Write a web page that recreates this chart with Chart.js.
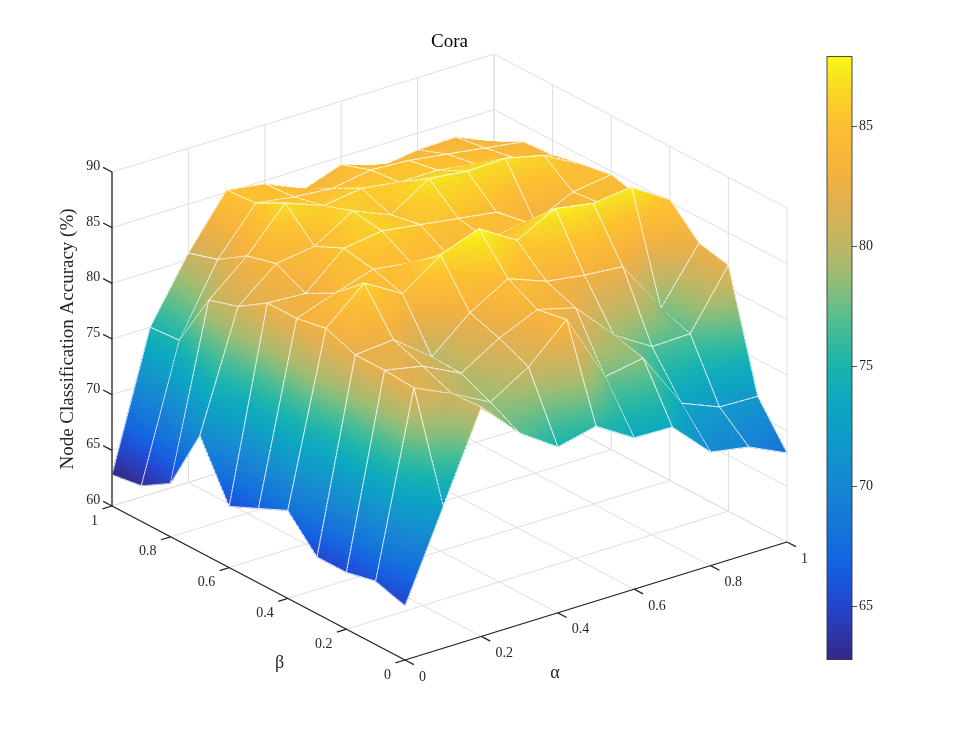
<!DOCTYPE html>
<html lang="en">
<head>
  <meta charset="UTF-8">
  <title>Cora</title>
  <script src="https://cdn.jsdelivr.net/npm/chart.js@4.4.1/dist/chart.umd.min.js"></script>
  <style>
    body { margin: 0; background: #fff; }
    #wrap { position: relative; width: 962px; height: 742px; }
    #surf { position: absolute; left: 0; top: 0; }
    #cbar { position: absolute; left: 820px; top: 46px; }
  </style>
</head>
<body>
<div id="wrap">
  <canvas id="surf" width="962" height="742"></canvas>
  <canvas id="cbar" width="73" height="624"></canvas>
</div>

<script>
  const alphaVals = [0, 0.1, 0.2, 0.3, 0.4, 0.5, 0.6, 0.7, 0.8, 0.9, 1];
  const betaVals = [0, 0.1, 0.2, 0.3, 0.4, 0.5, 0.6, 0.7, 0.8, 0.9, 1];
  // one row per beta value, one column per alpha value
  const accuracy = [
    [64.9, 72.8, 80.6, 77.2, 74.9, 75.7, 73.6, 73.5, 70.2, 69.6, 68.0],
    [65.7, 82.0, 80.4, 78.6, 80.7, 83.9, 77.7, 78.3, 73.2, 71.8, 71.7],
    [65.1, 82.2, 81.5, 79.8, 81.9, 83.4, 82.5, 79.0, 76.9, 77.0, 82.1],
    [65.1, 82.2, 82.5, 79.9, 82.8, 84.8, 83.5, 83.0, 82.7, 77.9, 82.7],
    [67.9, 83.2, 86.2, 84.2, 86.6, 87.9, 85.8, 87.6, 87.0, 87.4, 85.2],
    [66.7, 82.7, 83.9, 85.0, 84.5, 84.0, 84.5, 85.0, 84.0, 84.5, 84.0],
    [65.5, 82.7, 82.5, 85.5, 86.0, 85.5, 85.0, 84.5, 82.6, 84.2, 84.7],
    [70.5, 81.0, 83.8, 84.3, 86.4, 85.0, 87.2, 86.8, 86.9, 86.1, 84.2],
    [64.8, 80.2, 83.1, 86.8, 85.5, 86.0, 85.5, 85.5, 85.0, 84.5, 83.7],
    [63.2, 75.2, 81.4, 85.4, 84.9, 84.6, 85.2, 85.0, 84.5, 84.0, 83.5],
    [62.8, 75.0, 80.6, 85.2, 84.7, 83.1, 84.3, 83.0, 83.5, 83.6, 82.0]
  ];
  const alphaTicks = [0, 0.2, 0.4, 0.6, 0.8, 1];
  const betaTicks = [0, 0.2, 0.4, 0.6, 0.8, 1];
  const zTicks = [60, 65, 70, 75, 80, 85, 90];
  const cbarTicks = [65, 70, 75, 80, 85];

  // screen vectors of the axes box (pixels per unit of alpha, beta, full z range)
  const box = { ox: 405, oy: 660, ax: 382, ay: -118, bx: -293, by: -154, zh: -334 };
  const zLo = zTicks[0], zHi = zTicks[zTicks.length - 1];
  const flat = accuracy.flat();
  const cLo = Math.min(...flat), cHi = Math.max(...flat);

  const serif = '"Liberation Serif", "Times New Roman", serif';
  const ink = '#262626';

  // parula-like colour map, position 0..1
  const cmapStops = [
    [0.00, [52, 40, 135]], [0.05, [45, 55, 175]], [0.09, [35, 70, 205]],
    [0.15, [20, 95, 225]], [0.21, [20, 115, 218]], [0.29, [22, 135, 210]],
    [0.37, [15, 155, 200]], [0.43, [12, 168, 192]], [0.49, [28, 180, 172]],
    [0.55, [70, 188, 150]], [0.61, [130, 190, 125]], [0.65, [165, 187, 110]],
    [0.69, [192, 182, 100]], [0.75, [222, 176, 82]], [0.81, [245, 178, 62]],
    [0.89, [252, 192, 48]], [0.95, [248, 218, 35]], [1.00, [248, 248, 22]]
  ];
  function colorAt(t) {
    t = Math.max(0, Math.min(1, t));
    for (let k = 1; k < cmapStops.length; k++) {
      const [t1, c1] = cmapStops[k];
      if (t <= t1) {
        const [t0, c0] = cmapStops[k - 1];
        const f = (t - t0) / (t1 - t0);
        return 'rgb(' + c0.map((c, n) => Math.round(c + f * (c1[n] - c))).join(',') + ')';
      }
    }
    return 'rgb(248,248,22)';
  }
  const colorOf = z => colorAt((z - cLo) / (cHi - cLo));

  function project(chart, a, b, z) {
    const t = (z - zLo) / (zHi - zLo);
    return [
      chart.scales.x.getPixelForValue(box.ox + a * box.ax + b * box.bx),
      chart.scales.y.getPixelForValue(box.oy + a * box.ay + b * box.by + t * box.zh)
    ];
  }

  // split every grid face into small patches so the colour can follow z;
  // steep faces get more slices along the steep direction
  function buildPatches() {
    const out = [];
    const slices = d => Math.min(60, Math.max(3, Math.ceil(d / 0.3)));
    for (let i = 0; i < betaVals.length - 1; i++) {
      for (let j = 0; j < alphaVals.length - 1; j++) {
        const z00 = accuracy[i][j], z01 = accuracy[i][j + 1];
        const z10 = accuracy[i + 1][j], z11 = accuracy[i + 1][j + 1];
        const a0 = alphaVals[j], a1 = alphaVals[j + 1], b0 = betaVals[i], b1 = betaVals[i + 1];
        const nu = slices(Math.max(Math.abs(z01 - z00), Math.abs(z11 - z10)));
        const nv = slices(Math.max(Math.abs(z10 - z00), Math.abs(z11 - z01)));
        const at = (s, t) => ({
          a: a0 + s * (a1 - a0),
          b: b0 + t * (b1 - b0),
          z: z00 * (1 - s) * (1 - t) + z01 * s * (1 - t) + z10 * (1 - s) * t + z11 * s * t
        });
        for (let u = 0; u < nu; u++) {
          for (let v = 0; v < nv; v++) {
            const c = at((u + 0.5) / nu, (v + 0.5) / nv);
            out.push({
              pts: [at(u / nu, v / nv), at((u + 1) / nu, v / nv), at((u + 1) / nu, (v + 1) / nv), at(u / nu, (v + 1) / nv)],
              z: c.z,
              depth: -(box.ay * c.a + box.by * c.b),
              edges: [v === 0, u === nu - 1, v === nv - 1, u === 0]
            });
          }
        }
      }
    }
    return out.sort((p, q) => q.depth - p.depth);
  }
  const patches = buildPatches();

  function line(ctx, p, q) {
    ctx.beginPath();
    ctx.moveTo(p[0], p[1]);
    ctx.lineTo(q[0], q[1]);
    ctx.stroke();
  }

  const surfacePlugin = {
    id: 'surface3d',
    beforeDatasetsDraw(chart) {
      const ctx = chart.ctx;
      const P = (a, b, z) => project(chart, a, b, z);
      ctx.save();

      // back walls and floor grid
      ctx.strokeStyle = '#dedede';
      ctx.lineWidth = 1;
      alphaTicks.forEach(a => {
        line(ctx, P(a, 0, zLo), P(a, 1, zLo));
        line(ctx, P(a, 1, zLo), P(a, 1, zHi));
      });
      betaTicks.forEach(b => {
        line(ctx, P(0, b, zLo), P(1, b, zLo));
        line(ctx, P(1, b, zLo), P(1, b, zHi));
      });
      zTicks.forEach(z => {
        line(ctx, P(0, 1, z), P(1, 1, z));
        line(ctx, P(1, 0, z), P(1, 1, z));
      });

      // surface, far patches first
      ctx.lineJoin = 'round';
      patches.forEach(pt => {
        const q = pt.pts.map(p => P(p.a, p.b, p.z));
        const col = colorOf(pt.z);
        ctx.beginPath();
        ctx.moveTo(q[0][0], q[0][1]);
        for (let k = 1; k < 4; k++) ctx.lineTo(q[k][0], q[k][1]);
        ctx.closePath();
        ctx.fillStyle = col;
        ctx.fill();
        ctx.strokeStyle = col;
        ctx.lineWidth = 0.8;
        ctx.stroke();
        ctx.strokeStyle = 'rgba(255,255,255,0.95)';
        ctx.lineWidth = 0.9;
        pt.edges.forEach((on, k) => { if (on) line(ctx, q[k], q[(k + 1) % 4]); });
      });

      // axes, ticks and tick labels
      ctx.strokeStyle = ink;
      ctx.fillStyle = ink;
      ctx.lineWidth = 1.3;
      line(ctx, P(0, 1, zLo), P(0, 1, zHi));
      line(ctx, P(0, 0, zLo), P(0, 1, zLo));
      line(ctx, P(0, 0, zLo), P(1, 0, zLo));
      const unit = (dx, dy) => { const l = Math.hypot(dx, dy); return [dx / l, dy / l]; };
      const dB = unit(box.bx, box.by), dA = unit(-box.ax, -box.ay), dBn = unit(-box.bx, -box.by);
      const tick = 10;
      ctx.font = '14px ' + serif;

      ctx.textAlign = 'right';
      ctx.textBaseline = 'middle';
      zTicks.forEach(z => {
        const p = P(0, 1, z), e = [p[0] + tick * dB[0], p[1] + tick * dB[1]];
        line(ctx, p, e);
        ctx.fillText(String(z), e[0] - 3, e[1] - 1);
      });
      betaTicks.forEach(b => {
        const p = P(0, b, zLo), e = [p[0] + tick * dA[0], p[1] + tick * dA[1]];
        line(ctx, p, e);
        ctx.fillText(String(b), p[0] - 14, p[1] + 15);
      });
      ctx.textAlign = 'left';
      alphaTicks.forEach(a => {
        const p = P(a, 0, zLo), e = [p[0] + tick * dBn[0], p[1] + tick * dBn[1]];
        line(ctx, p, e);
        ctx.fillText(String(a), p[0] + 14, p[1] + 17);
      });

      // axis titles
      ctx.font = '18px ' + serif;
      ctx.textAlign = 'center';
      const am = P(0.5, 0, zLo), bm = P(0, 0.5, zLo), zm = P(0, 1, (zLo + zHi) / 2);
      ctx.fillText('α', am[0] - 41, am[1] + 72);
      ctx.fillText('β', bm[0] + 21, bm[1] + 80);
      ctx.save();
      ctx.font = '19px ' + serif;
      ctx.translate(zm[0] - 44, zm[1]);
      ctx.rotate(-Math.PI / 2);
      ctx.fillText('Node Classification Accuracy (%)', 0, 0);
      ctx.restore();

      ctx.fillStyle = '#000';
      ctx.font = '19px ' + serif;
      const left = P(0, 1, zLo)[0], right = P(1, 0, zLo)[0];
      ctx.fillText('Cora', (left + right) / 2, 42);
      ctx.restore();
    }
  };

  new Chart(document.getElementById('surf'), {
    type: 'scatter',
    data: { datasets: [] },
    options: {
      responsive: false,
      animation: false,
      events: [],
      layout: { padding: 0 },
      plugins: { legend: { display: false }, tooltip: { enabled: false } },
      scales: {
        x: { type: 'linear', display: false, min: 0, max: 962 },
        y: { type: 'linear', display: false, min: 0, max: 742, reverse: true }
      }
    },
    plugins: [surfacePlugin]
  });

  // colour bar
  const cbarFrame = {
    id: 'cbarFrame',
    afterDatasetsDraw(chart) {
      const a = chart.chartArea, ctx = chart.ctx;
      ctx.save();
      ctx.strokeStyle = ink;
      ctx.lineWidth = 0.8;
      ctx.strokeRect(a.left, a.top, a.right - a.left, a.bottom - a.top);
      ctx.restore();
    }
  };

  new Chart(document.getElementById('cbar'), {
    type: 'bar',
    data: {
      labels: [''],
      datasets: [{
        data: [[cLo, cHi]],
        barPercentage: 1,
        categoryPercentage: 1,
        borderWidth: 0,
        backgroundColor: context => {
          const area = context.chart.chartArea;
          if (!area) return '#888';
          const g = context.chart.ctx.createLinearGradient(0, area.bottom, 0, area.top);
          cmapStops.forEach(([t, c]) => g.addColorStop(t, 'rgb(' + c.join(',') + ')'));
          return g;
        }
      }]
    },
    options: {
      responsive: false,
      animation: false,
      events: [],
      layout: { padding: { left: 7, top: 10, bottom: 10, right: 0 } },
      plugins: { legend: { display: false }, tooltip: { enabled: false } },
      scales: {
        x: { display: false },
        y: {
          position: 'right',
          min: cLo,
          max: cHi,
          afterFit: s => { s.width = 41; },
          afterBuildTicks: s => { s.ticks = cbarTicks.map(v => ({ value: v })); },
          border: { display: false },
          grid: { drawOnChartArea: false, drawTicks: true, tickLength: 5, color: ink, lineWidth: 0.8 },
          ticks: { padding: 2, color: ink, font: { family: serif, size: 14 } }
        }
      }
    },
    plugins: [cbarFrame]
  });
</script>
</body>
</html>
